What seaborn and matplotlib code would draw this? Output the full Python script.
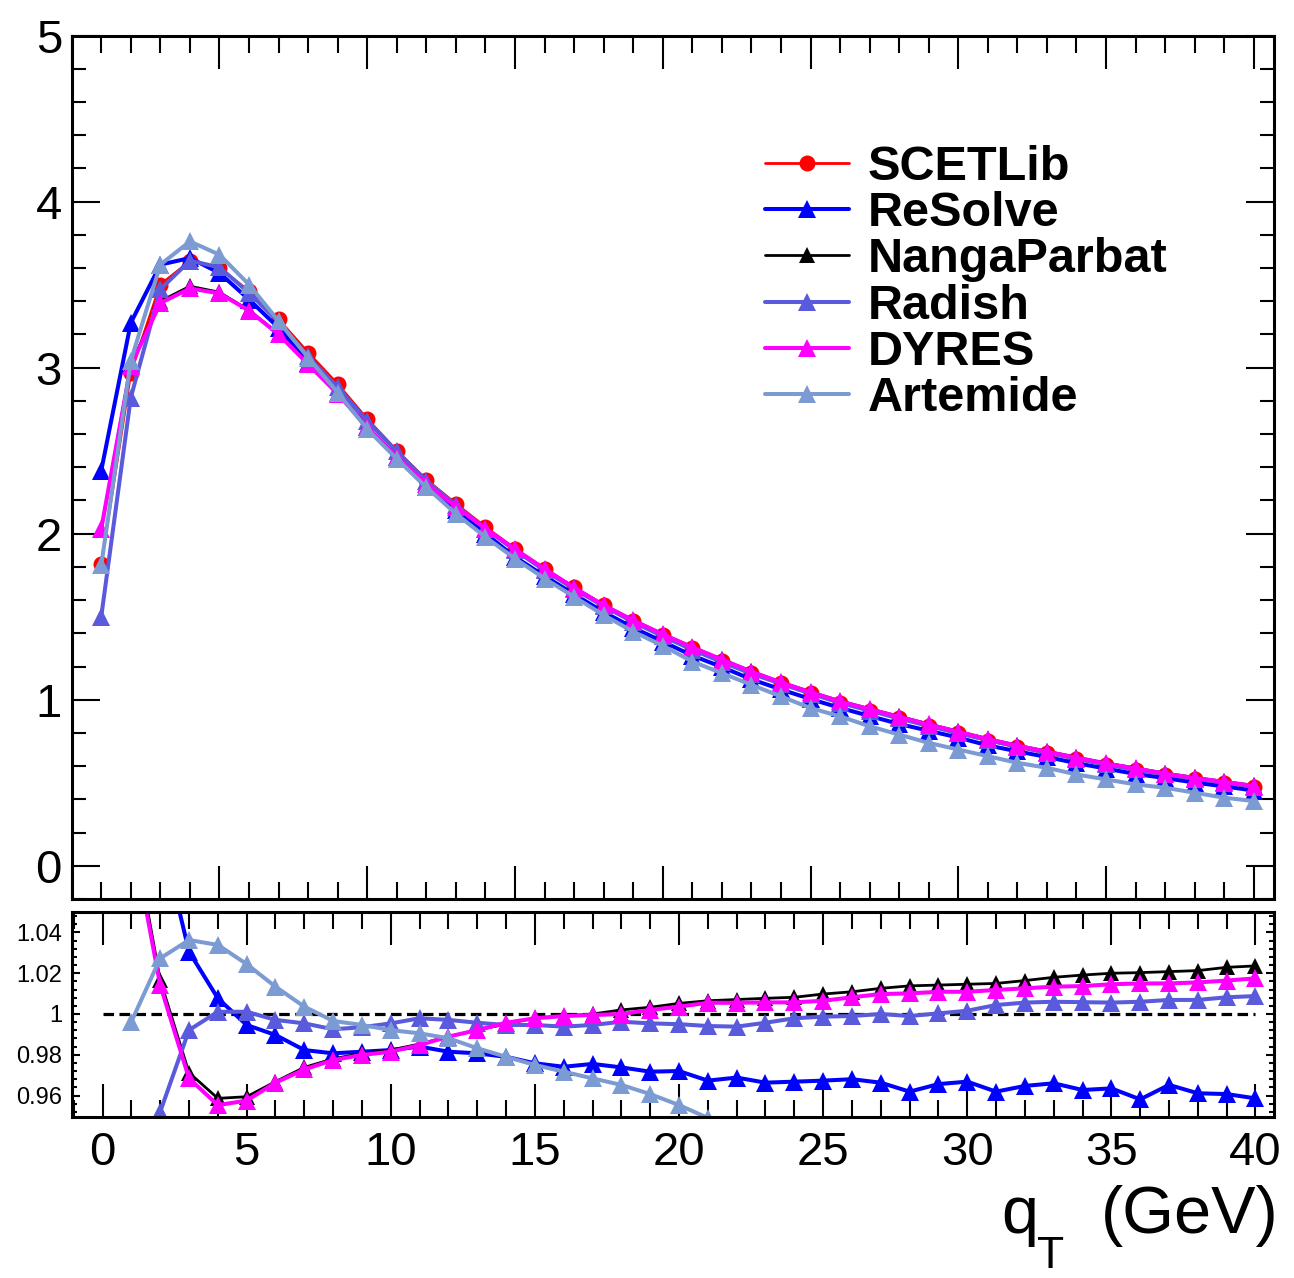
import numpy as np
import matplotlib
matplotlib.use("Agg")
import matplotlib.pyplot as plt
import seaborn as sns
from matplotlib.ticker import MultipleLocator, FixedLocator

sns.set_theme(style="ticks")
plt.rcParams['font.family'] = ['Liberation Sans', 'DejaVu Sans']
plt.rcParams['text.color'] = 'black'
plt.rcParams['axes.edgecolor'] = 'black'
plt.rcParams['xtick.color'] = 'black'
plt.rcParams['ytick.color'] = 'black'
plt.rcParams['xtick.labelcolor'] = 'black'
plt.rcParams['ytick.labelcolor'] = 'black'

# qT bins (GeV)
qt = np.arange(1, 41)

# upper panel: distributions
scetlib = [1.82, 2.97, 3.50, 3.64, 3.60, 3.46, 3.29, 3.09, 2.90, 2.69,
           2.50, 2.325, 2.18, 2.04, 1.91, 1.79, 1.676, 1.569, 1.475, 1.389,
           1.309, 1.235, 1.162, 1.098, 1.038, 0.982, 0.934, 0.888, 0.842, 0.798,
           0.754, 0.714, 0.678, 0.642, 0.607, 0.577, 0.547, 0.521, 0.497, 0.473]
resolve = [2.38, 3.27, 3.62, 3.66, 3.57, 3.41, 3.24, 3.03, 2.85, 2.64,
           2.46, 2.28, 2.14, 2.00, 1.86, 1.745, 1.635, 1.528, 1.434, 1.350,
           1.266, 1.197, 1.123, 1.062, 1.004, 0.951, 0.902, 0.854, 0.813, 0.772,
           0.725, 0.689, 0.655, 0.618, 0.585, 0.553, 0.528, 0.501, 0.478, 0.453]
nangaparbat = [2.02, 3.02, 3.40, 3.49, 3.454, 3.345, 3.204, 3.022, 2.844, 2.642,
               2.463, 2.299, 2.163, 2.030, 1.906, 1.788, 1.676, 1.572, 1.480, 1.396,
               1.318, 1.244, 1.171, 1.107, 1.048, 0.993, 0.946, 0.900, 0.854, 0.810,
               0.765, 0.726, 0.690, 0.654, 0.619, 0.589, 0.558, 0.532, 0.508, 0.484]
radish = [1.50, 2.82, 3.472, 3.644, 3.604, 3.450, 3.275, 3.067, 2.881, 2.678,
          2.495, 2.318, 2.171, 2.029, 1.900, 1.779, 1.667, 1.563, 1.468, 1.382,
          1.301, 1.227, 1.157, 1.096, 1.037, 0.981, 0.934, 0.887, 0.842, 0.799,
          0.757, 0.718, 0.682, 0.646, 0.610, 0.580, 0.551, 0.525, 0.501, 0.477]
dyres = [2.03, 3.012, 3.389, 3.477, 3.447, 3.343, 3.200, 3.020, 2.842, 2.640,
         2.462, 2.299, 2.163, 2.031, 1.906, 1.788, 1.675, 1.569, 1.478, 1.394,
         1.316, 1.242, 1.169, 1.104, 1.045, 0.990, 0.943, 0.897, 0.851, 0.807,
         0.763, 0.723, 0.687, 0.651, 0.616, 0.586, 0.555, 0.529, 0.505, 0.481]
artemide = [1.81, 3.04, 3.62, 3.76, 3.68, 3.50, 3.28, 3.06, 2.85, 2.63,
            2.45, 2.28, 2.12, 1.98, 1.85, 1.73, 1.62, 1.51, 1.41, 1.325,
            1.23, 1.16, 1.09, 1.02, 0.95, 0.90, 0.84, 0.79, 0.74, 0.70,
            0.66, 0.62, 0.59, 0.55, 0.52, 0.49, 0.47, 0.44, 0.41, 0.39]

# lower panel: ratio to SCETLib
r_resolve = [1.31, 1.09, 1.0306, 1.0077, 0.9946, 0.9897, 0.9823, 0.9807, 0.9815, 0.9823,
             0.984, 0.9815, 0.9807, 0.979, 0.9758, 0.9741, 0.9755, 0.9738, 0.9717, 0.972,
             0.9673, 0.9688, 0.9663, 0.9668, 0.9673, 0.968, 0.9663, 0.9619, 0.9656, 0.9668,
             0.9619, 0.9647, 0.966, 0.9627, 0.9635, 0.9581, 0.9652, 0.9611, 0.9607, 0.9586]
r_nangaparbat = [1.095, 1.0167, 0.9712, 0.9586, 0.9594, 0.9668, 0.9738, 0.978, 0.9807, 0.9823,
                 0.9853, 0.9889, 0.9921, 0.9951, 0.998, 0.999, 1.0, 1.002, 1.0033, 1.0052,
                 1.0065, 1.0071, 1.0077, 1.0082, 1.0098, 1.0109, 1.0126, 1.0138, 1.0142, 1.0146,
                 1.015, 1.0164, 1.018, 1.0191, 1.02, 1.0203, 1.0208, 1.0213, 1.0229, 1.0236]
r_radish = [0.82, 0.952, 0.9921, 1.0011, 1.0011, 0.9971, 0.9954, 0.9925, 0.9935, 0.9954,
            0.9979, 0.9971, 0.9957, 0.9946, 0.9946, 0.9938, 0.9946, 0.9962, 0.9954, 0.995,
            0.9941, 0.9938, 0.9957, 0.9979, 0.9987, 0.999, 1.0, 0.999, 1.0003, 1.0016,
            1.0044, 1.0056, 1.006, 1.0058, 1.0056, 1.006, 1.0069, 1.0069, 1.0082, 1.0088]
r_dyres = [1.09, 1.0142, 0.9684, 0.9553, 0.9575, 0.9663, 0.9728, 0.9774, 0.9799, 0.9815,
           0.9848, 0.9889, 0.9921, 0.9957, 0.9979, 0.999, 0.9995, 1.0, 1.002, 1.0036,
           1.0055, 1.0055, 1.0057, 1.0057, 1.0065, 1.0082, 1.0098, 1.0101, 1.0109, 1.0109,
           1.0118, 1.0126, 1.0134, 1.0137, 1.0146, 1.015, 1.015, 1.0155, 1.0164, 1.0175]
r_artemide = [0.9962, 1.0273, 1.0363, 1.0339, 1.0245, 1.0134, 1.0036, 0.9966, 0.9946, 0.9921,
              0.9905, 0.9881, 0.9832, 0.979, 0.975, 0.9717, 0.9684, 0.9652, 0.9607, 0.9553,
              0.949, 0.94, 0.94, 0.93, 0.92, 0.91, 0.90, 0.89, 0.88, 0.87,
              0.87, 0.87, 0.86, 0.86, 0.85, 0.85, 0.84, 0.84, 0.83, 0.82]

names = ["SCETLib", "ReSolve", "NangaParbat", "Radish", "DYRES", "Artemide"]
colors = ["#ff0000", "#0000ff", "#000000", "#5a5adc", "#ff00ff", "#7b9bd2"]
markers = ["o", "^", "^", "^", "^", "^"]
widths = [2.0, 2.9, 2.0, 2.9, 2.9, 2.9]
msizes = [11.5, 12.5, 11.5, 12.5, 12.5, 12.5]
top_series = [scetlib, resolve, nangaparbat, radish, dyres, artemide]
bot_series = [None, r_resolve, r_nangaparbat, r_radish, r_dyres, r_artemide]

W, H = 1294, 1278
fig = plt.figure(figsize=(W / 100, H / 100), dpi=100)
ax = fig.add_axes([71.7 / W, 1 - 899 / H, (1274.5 - 71.7) / W, (899 - 35.5) / H])
axr = fig.add_axes([71.7 / W, 1 - 1116.7 / H, (1274.5 - 71.7) / W, (1116.7 - 911.7) / H])

for name, col, mk, lw, ms, vals in zip(names, colors, markers, widths, msizes, top_series):
    sns.lineplot(x=qt, y=vals, ax=ax, color=col, marker=mk, linewidth=lw,
                 markersize=ms, markeredgecolor=col, markeredgewidth=0, label=name)

for name, col, mk, lw, ms, vals in zip(names, colors, markers, widths, msizes, bot_series):
    if vals is None:
        continue
    sns.lineplot(x=qt, y=vals, ax=axr, color=col, marker=mk, linewidth=lw,
                 markersize=ms, markeredgecolor=col, markeredgewidth=0, legend=False)

axr.hlines(1.0, 0, 40, colors="black", linewidth=2.3, linestyles=(0, (3.3, 1.7)), zorder=1)

# axes ranges and ticks (ROOT style)
ax.set_xlim(0, 40.7)
ax.set_ylim(-0.2, 5.0)
axr.set_xlim(-1.07, 40.66)
axr.set_ylim(0.9496, 1.0502)

for a in (ax, axr):
    for s in a.spines.values():
        s.set_linewidth(2.2)
        s.set_color("black")
        s.set_visible(True)
    a.set_facecolor("white")
    a.grid(False)
    a.set_xlabel("")
    a.set_ylabel("")
    a.xaxis.set_major_locator(MultipleLocator(5))
    a.xaxis.set_minor_locator(MultipleLocator(1))
    a.tick_params(which="both", direction="in", top=True, right=True,
                  color="black", labelcolor="black", width=1.5)

ax.yaxis.set_major_locator(MultipleLocator(1))
ax.yaxis.set_minor_locator(MultipleLocator(0.2))
ax.tick_params(axis="x", which="major", length=23.5, labelbottom=False)
ax.tick_params(axis="x", which="minor", length=12)
ax.tick_params(axis="y", which="major", length=20, labelsize=34, pad=7)
ax.tick_params(axis="y", which="minor", length=10)

axr.yaxis.set_major_locator(FixedLocator([0.96, 0.98, 1.0, 1.02, 1.04]))
axr.yaxis.set_minor_locator(MultipleLocator(0.004))
axr.set_yticklabels(["0.96", "0.98", "1", "1.02", "1.04"])
axr.tick_params(axis="x", which="major", length=23.5, labelsize=34, pad=10)
axr.tick_params(axis="x", which="minor", length=12)
axr.tick_params(axis="y", which="major", length=6, labelsize=17, pad=7)
axr.tick_params(axis="y", which="minor", length=3.5)

leg = ax.legend(loc="upper left", bbox_to_anchor=(765 / W, 1 - 145 / H),
                bbox_transform=fig.transFigure, frameon=False,
                prop={"family": "Liberation Sans", "weight": "bold", "size": 35},
                handlelength=1.73, handletextpad=0.39, labelspacing=0.025,
                borderpad=0, borderaxespad=0)
for line in leg.get_lines():
    line.set_markeredgewidth(0)

# axis title, ROOT-like large subscript
fig.text(1279 / W, 1 - 1233 / H, "(GeV)", ha="right", va="baseline", fontsize=48)
fig.text(1001 / W, 1 - 1233 / H, "q", ha="left", va="baseline", fontsize=48)
fig.text(1037 / W, 1 - 1268 / H, "T", ha="left", va="baseline", fontsize=32)

fig.savefig("out.png", dpi=100, facecolor="white")
